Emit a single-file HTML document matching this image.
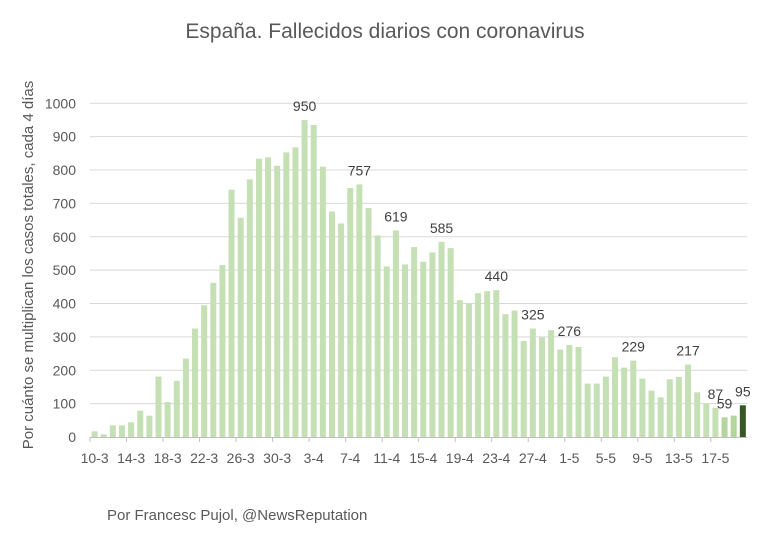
<!DOCTYPE html>
<html><head><meta charset="utf-8"><style>
body{margin:0;background:#fff;}
svg{display:block;font-family:"Liberation Sans",sans-serif;}
</style></head><body>
<svg id="chart" width="770" height="549">
<text x="385" y="38" text-anchor="middle" font-size="21" fill="#595959">España. Fallecidos diarios con coronavirus</text>
<text transform="translate(33,265) rotate(-90)" text-anchor="middle" font-size="15" fill="#595959">Por cuánto se multiplican los casos totales, cada 4 días</text>
<text x="107" y="520" font-size="15" fill="#595959">Por Francesc Pujol, @NewsReputation</text>
<g id="grid"></g><g id="bars"></g><g id="labels"></g><g id="axis"></g>
</svg>
<script>
const values=[17,8,35,35,44,79,64,181,105,168,235,325,395,462,515,741,657,772,834,838,813,853,868,950,935,810,676,640,746,757,686,604,511,619,517,569,525,553,585,566,410,401,431,437,440,368,379,288,325,298,320,262,276,270,160,160,181,239,208,229,175,139,119,173,180,217,134,100,87,59,64,95];
const labeledIdx=[23,29,33,38,44,48,52,59,65,68,69,71];
const yTicks=[0,100,200,300,400,500,600,700,800,900,1000];
const startDay=10, startMonth=3;
const svg=document.getElementById('chart');
const NS='http://www.w3.org/2000/svg';
const x0=90, step=9.13, y0=437, yTop=103.3;
const X=i=>x0+i*step;
const Y=v=>y0-(v/1000)*(y0-yTop);
function mk(tag,attrs,parent){const e=document.createElementNS(NS,tag);for(const k in attrs)e.setAttribute(k,attrs[k]);document.getElementById(parent).appendChild(e);return e;}
const xEnd=X(values.length);
yTicks.forEach(t=>{
  if(t>0){const l=mk('line',{x1:x0,x2:xEnd,y1:Y(t),y2:Y(t),stroke:'#d9d9d9','stroke-width':1},'grid');
  
  }
  const tx=mk('text',{x:76,y:Y(t)+5,'text-anchor':'end','font-size':14,fill:'#595959'},'axis');
  tx.textContent=t;
  
  
});
function dateLabel(i){const d=new Date(2020,startMonth-1,startDay+i);return d.getDate()+'-'+(d.getMonth()+1);}
values.forEach((v,i)=>{
  const last=i===values.length-1;
  const fill=last?'#375623':(i>=69?'#b4d69c':'#c5e0b4');
  const r=mk('rect',{x:X(i)+1.6,y:Y(v),width:6,height:y0-Y(v),fill:fill},'bars');
  
  
});
labeledIdx.forEach(i=>{
  const t=mk('text',{x:X(i)+4.6,y:Y(values[i])-9,'text-anchor':'middle','font-size':14,fill:'#404040'},'labels');
  t.textContent=values[i];
  
  
});
const ax=mk('line',{x1:x0,x2:xEnd,y1:y0+0.5,y2:y0+0.5,stroke:'#bfbfbf'},'axis');


for(let i=0;i<values.length;i+=4){
  const tk=mk('line',{x1:X(i),x2:X(i),y1:y0,y2:y0+5,stroke:'#bfbfbf'},'axis');
  
  
  const tl=mk('text',{x:X(i)+4.6,y:463,'text-anchor':'middle','font-size':14,fill:'#595959'},'axis');
  tl.textContent=dateLabel(i);
  
  
}
</script>
</body></html>
